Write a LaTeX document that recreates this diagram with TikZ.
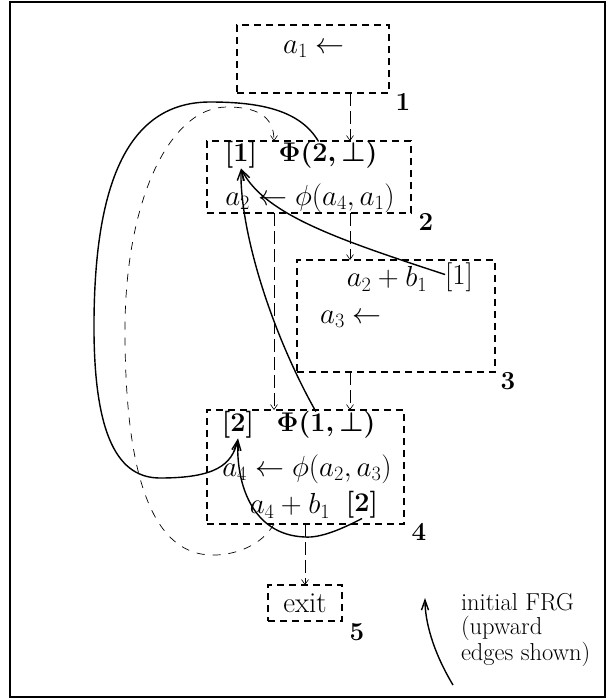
\RequirePackage{fix-cm}
\documentclass[tikz,border=0pt]{standalone}
\usetikzlibrary{arrows.meta}
\begin{document}
\begin{tikzpicture}[x=1pt,y=-1pt,
  every node/.style={font=\fontsize{29}{34}\selectfont, inner sep=0pt, outer sep=0pt},
  bm/.style={font=\fontsize{27}{32}\selectfont\boldmath},
  box/.style={draw, line width=1.6pt, dash pattern=on 7pt off 5pt},
  cfg/.style={line width=0.6pt, dash pattern=on 13pt off 5pt, -{Straight Barb[length=5pt,width=7pt,line width=0.6pt]}},
  back/.style={line width=0.7pt, dash pattern=on 8pt off 8pt, -{Straight Barb[length=5pt,width=7pt,line width=0.6pt]}},
  frg/.style={line width=1.4pt, -{Straight Barb[length=10pt,width=7pt,line width=1.4pt]}},
  lbl/.style={font=\fontsize{26}{30}\selectfont\bfseries}
]
\useasboundingbox (0,0) rectangle (607,699);
\draw[line width=2pt] (10,2) rectangle (605,697);

% boxes
\node[box, minimum width=152pt, minimum height=68pt] (b1) at (313,59) {};
\node[box, minimum width=204pt, minimum height=72pt] (b2) at (309,177) {};
\node[box, minimum width=198pt, minimum height=112pt] (b3) at (396,316) {};
\node[box, minimum width=197pt, minimum height=114pt] (b4) at (305.5,467) {};
\node[box, minimum width=74pt, minimum height=36pt] (b5) at (305,603) {exit};

% texts
\node (t1) at (314,49) {$a_1 \leftarrow$};
\node[bm] (n2a) at (241,155) {$[1]$};
\node[bm] (n2b) at (328,155) {$\Phi(2,\bot)$};
\node (n2c) at (310,198) {$a_2 \leftarrow \phi(a_4,a_1)$};
\node (n3a) at (387,279) {$a_2+b_1$};
\node (n3b) at (459,277) {$[1]$};
\node (n3c) at (351,319) {$a_3 \leftarrow$};
\node[bm] (n4a) at (238,425) {$[2]$};
\node[bm] (n4b) at (326,425) {$\Phi(1,\bot)$};
\node (n4c) at (307,469) {$a_4 \leftarrow \phi(a_2,a_3)$};
\node (n4d) at (290,506) {$a_4+b_1$};
\node[bm] (n4e) at (362,505) {$[2]$};

% block labels
\node[lbl] (l1) at (403,102) {1};
\node[lbl] (l2) at (426,222) {2};
\node[lbl] (l3) at (508,381) {3};
\node[lbl] (l4) at (419,532) {4};
\node[lbl] (l5) at (357,632) {5};

% CFG edges
\coordinate (x350) at (350,0);
\coordinate (x274) at (274,0);
\coordinate (x305) at (305,0);
\draw[cfg] (b1.south -| x350) -- (b2.north -| x350);
\draw[cfg] (b2.south -| x350) -- (b3.north -| x350);
\draw[cfg] (b2.south -| x274) -- (b4.north -| x274);
\draw[cfg] (b3.south -| x350) -- (b4.north -| x350);
\draw[cfg] (b4.south -| x305) -- (b5.north -| x305);
\draw[back] (b4.south -| x274) .. controls (262,545) and (235,556) .. (210,555)
  .. controls (140,552) and (125,440) .. (125,330)
  .. controls (125,200) and (170,107) .. (227,107)
  .. controls (255,107) and (274,115) .. (b2.north -| x274);

% FRG edges
\draw[frg] (n3b.170) .. controls (340,240) and (265,215) .. (n2a.south);
\draw[frg] (n4b.127) .. controls (270,330) and (240,230) .. (n2a.south);
\draw[frg] (n4e.south) .. controls (340,530) and (320,538) .. (305,537)
  .. controls (250,535) and (236,480) .. (n4a.south);
\draw[frg] (n2b.125) .. controls (300,110) and (260,102) .. (210,102)
  .. controls (120,102) and (95,200) .. (94,320)
  .. controls (93,440) and (120,478) .. (160,478)
  .. controls (215,478) and (232,465) .. (n4a.south);

% legend
\coordinate (lg1) at (453,685);
\coordinate (lg2) at (425,598);
\draw[frg] (lg1) .. controls (432,650) and (425,620) .. (lg2);
\node[anchor=west, align=left, font=\fontsize{24.5}{24}\selectfont] (leg) at (461,630) {initial FRG\\(upward\\edges shown)};
\end{tikzpicture}
\end{document}
